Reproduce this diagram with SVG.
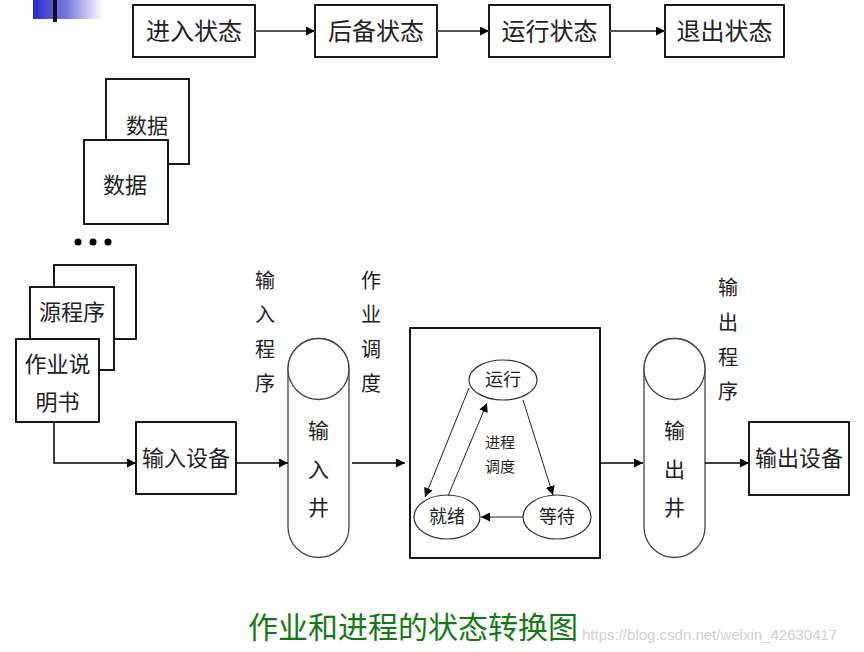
<svg xmlns="http://www.w3.org/2000/svg" width="864" height="652" viewBox="0 0 864 652">
<defs>
<linearGradient id="bl" x1="0" y1="0" x2="1" y2="0">
<stop offset="0" stop-color="#2b2bd0"/><stop offset="0.5" stop-color="#7d7de0"/><stop offset="1" stop-color="#ffffff"/>
</linearGradient>
<marker id="ah" viewBox="0 0 10 10" refX="10" refY="5" markerWidth="9" markerHeight="9" markerUnits="userSpaceOnUse" orient="auto">
<path d="M0,0 L10,5 L0,10 z" fill="#000"/>
</marker>
</defs>
<style>
.box{fill:#fff;stroke:#000;stroke-width:1.8}
.cyl{fill:#fff;stroke:#444;stroke-width:1.3}
.ell{fill:#fff;stroke:#333;stroke-width:1.2}
.t{font-family:"Noto Sans CJK SC","Noto Sans CJK JP",sans-serif;fill:#222;text-anchor:middle}
.ln{fill:none;stroke:#000;stroke-width:1.5;marker-end:url(#ah)}
.lg{fill:none;stroke:#555;stroke-width:2;marker-end:url(#ah)}
.lt{fill:none;stroke:#222;stroke-width:1;marker-end:url(#ah)}
</style>
<rect width="864" height="652" fill="#fff"/>
<rect x="33" y="0" width="70" height="19" fill="url(#bl)"/>
<rect x="53" y="0" width="4" height="22" fill="#111"/>

<g id="s1"><rect class="box" x="133" y="5" width="122" height="52"/><text class="t" x="194" y="40" font-size="24">进入状态</text></g>
<g id="s2"><rect class="box" x="315" y="5" width="122" height="52"/><text class="t" x="376" y="40" font-size="24">后备状态</text></g>
<g id="s3"><rect class="box" x="489" y="5" width="121" height="52"/><text class="t" x="549.5" y="40" font-size="24">运行状态</text></g>
<g id="s4"><rect class="box" x="665" y="5" width="119" height="52"/><text class="t" x="724.5" y="40" font-size="24">退出状态</text></g>

<g id="data2"><rect class="box" x="106" y="79" width="83" height="85"/><text class="t" x="147" y="133" font-size="21">数据</text></g>
<g id="data1"><rect class="box" x="84" y="140" width="84" height="84"/><text class="t" x="125" y="193" font-size="22">数据</text></g>
<g id="dots" fill="#000"><circle cx="78" cy="242" r="3.5"/><circle cx="93" cy="242" r="3.5"/><circle cx="108" cy="242" r="3.5"/></g>

<g id="back"><rect class="box" x="54" y="265" width="82" height="74"/></g>
<g id="src"><rect class="box" x="30" y="287" width="84" height="83"/><text class="t" x="72" y="320" font-size="22">源程序</text></g>
<g id="spec"><rect class="box" x="16" y="339" width="83" height="83"/><text class="t" x="57.5" y="372" font-size="22">作业说</text><text class="t" x="57.5" y="410" font-size="22">明书</text></g>
<g id="indev"><rect class="box" x="136" y="422" width="100" height="72"/><text class="t" x="186" y="466" font-size="22">输入设备</text></g>

<g id="inlabel"><text class="t" font-size="20"><tspan x="265" y="288">输</tspan><tspan x="265" y="322">入</tspan><tspan x="265" y="357">程</tspan><tspan x="265" y="391">序</tspan></text></g>
<g id="joblabel"><text class="t" font-size="20"><tspan x="371" y="288">作</tspan><tspan x="371" y="322">业</tspan><tspan x="371" y="357">调</tspan><tspan x="371" y="391">度</tspan></text></g>

<g id="inwell">
<path class="cyl" d="M288,369 A30.5,30.5 0 0 1 349,369 L349,527 A30.5,30.5 0 0 1 288,527 Z"/>
<circle class="cyl" cx="318.5" cy="369" r="30.5"/>
<text class="t" font-size="21"><tspan x="318.5" y="438">输</tspan><tspan x="318.5" y="477">入</tspan><tspan x="318.5" y="515">井</tspan></text>
</g>

<g id="proc"><rect class="box" x="410" y="328" width="190" height="230"/>
<text class="t" font-size="15" x="500" y="448">进程</text><text class="t" font-size="15" x="500" y="472">调度</text></g>
<g id="run"><ellipse class="ell" cx="503" cy="380" rx="34" ry="20"/><text class="t" font-size="18" x="503" y="386">运行</text></g>
<g id="ready"><ellipse class="ell" cx="447" cy="517" rx="33" ry="22"/><text class="t" font-size="18" x="447" y="523">就绪</text></g>
<g id="wait"><ellipse class="ell" cx="557" cy="517" rx="34" ry="22"/><text class="t" font-size="18" x="557" y="523">等待</text></g>

<g id="outwell">
<path class="cyl" d="M644,369 A30.5,30.5 0 0 1 705,369 L705,527 A30.5,30.5 0 0 1 644,527 Z"/>
<circle class="cyl" cx="674.5" cy="369" r="30.5"/>
<text class="t" font-size="21"><tspan x="674.5" y="438">输</tspan><tspan x="674.5" y="477">出</tspan><tspan x="674.5" y="515">井</tspan></text>
</g>
<g id="outlabel"><text class="t" font-size="20"><tspan x="728" y="295">输</tspan><tspan x="728" y="330">出</tspan><tspan x="728" y="365">程</tspan><tspan x="728" y="399">序</tspan></text></g>
<g id="outdev"><rect class="box" x="749" y="422" width="100" height="73"/><text class="t" x="799" y="466" font-size="22">输出设备</text></g>

<g id="connectors">
<line class="lg" x1="255" y1="31" x2="315" y2="31"/>
<line class="lg" x1="437" y1="31" x2="489" y2="31"/>
<line class="lg" x1="610" y1="31" x2="665" y2="31"/>
<polyline class="ln" points="54,422 54,463 136,463"/>
<line class="ln" x1="236" y1="463" x2="288" y2="463"/>
<line class="ln" x1="352" y1="463" x2="405" y2="463"/>
<line class="ln" x1="600" y1="463" x2="643" y2="463"/>
<line class="ln" x1="705" y1="463" x2="749" y2="463"/>
<line class="lt" x1="469" y1="388" x2="425" y2="497"/>
<line class="lt" x1="448" y1="496" x2="487" y2="403"/>
<line class="lt" x1="523" y1="400" x2="553" y2="495"/>
<line class="lt" x1="523" y1="517" x2="481" y2="517"/>
</g>

<text class="t" x="413" y="638" font-size="30" style="fill:#137a13">作业和进程的状态转换图</text>
<text x="582" y="640" font-size="15" style="font-family:'Liberation Sans',sans-serif;fill:#d0d0d0">https://blog.csdn.net/weixin_42630417</text>
</svg>
